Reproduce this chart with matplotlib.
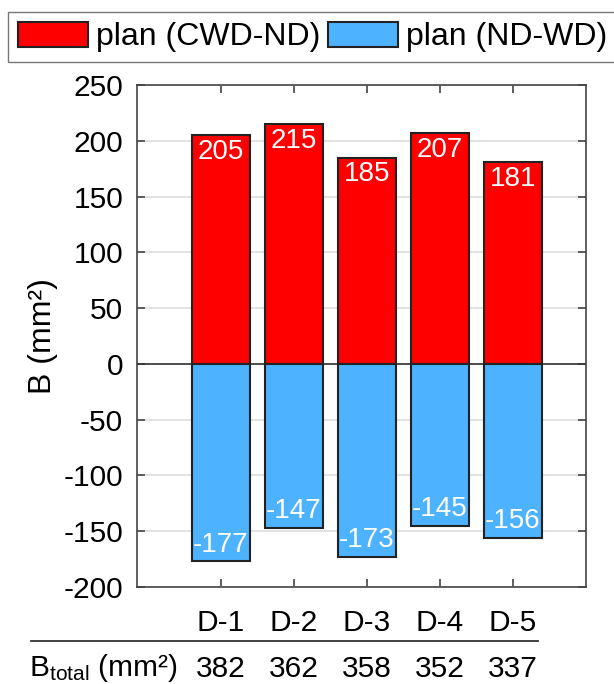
import numpy as np
import matplotlib.pyplot as plt
from matplotlib.lines import Line2D

plt.rcParams['font.family'] = ['Liberation Sans', 'DejaVu Sans']
plt.rcParams['mathtext.fontset'] = 'custom'
plt.rcParams['mathtext.rm'] = 'Liberation Sans'
plt.rcParams['mathtext.it'] = 'Liberation Sans:italic'
plt.rcParams['axes.unicode_minus'] = False

categories = ["D-1", "D-2", "D-3", "D-4", "D-5"]
cwd_nd = [205, 215, 185, 207, 181]
nd_wd = [-177, -147, -173, -145, -156]
b_total = [382, 362, 358, 352, 337]

RED = "#ff0000"
BLUE = "#4db2ff"
EDGE = "#222222"
FS = 21.5

fig = plt.figure(figsize=(6.14, 6.84), dpi=100)
ax = fig.add_axes([137 / 614, 1 - 587 / 684, 449 / 614, 502 / 684])

x = np.arange(1, len(categories) + 1)
b1 = ax.bar(x, cwd_nd, width=0.8, color=RED, edgecolor=EDGE, linewidth=1.5,
            label="plan (CWD-ND)", zorder=3)
b2 = ax.bar(x, nd_wd, width=0.8, color=BLUE, edgecolor=EDGE, linewidth=1.5,
            label="plan (ND-WD)", zorder=3)

for xi, v in zip(x, cwd_nd):
    ax.annotate(str(v), (xi, v), xytext=(0, -12), textcoords="offset points",
                ha="center", va="center", color="white", fontsize=FS - 1.5, zorder=4)
for xi, v in zip(x, nd_wd):
    ax.annotate(str(v), (xi, v), xytext=(0, 12), textcoords="offset points",
                ha="center", va="center", color="white", fontsize=FS - 1.5, zorder=4)

ax.set_xlim(-0.15, 6.0)
ax.set_ylim(-200, 250)
ax.set_yticks(np.arange(-200, 251, 50))
ax.set_xticks(x)
ax.set_xticklabels(categories)
ax.yaxis.grid(True, color="#dddddd", linewidth=1.2, zorder=0)
ax.axhline(0, color="#333333", linewidth=1.2, zorder=2)
ax.tick_params(axis="both", direction="in", labelsize=FS, length=6, width=1.2,
               color="#444444", top=True, right=True)
ax.tick_params(axis="x", pad=16)
ax.tick_params(axis="y", pad=10)
for s in ax.spines.values():
    s.set_color("#444444")
    s.set_linewidth(1.2)
ax.set_ylabel("B (mm²)", fontsize=23)
ax.yaxis.set_label_coords(-0.175, 0.5)

fig.legend(handles=[b1, b2], loc="upper left", bbox_to_anchor=(8 / 614, 1 - 12 / 684),
           ncol=2, fontsize=23, frameon=True, fancybox=False, edgecolor="#555555",
           handlelength=2.2, handleheight=0.85, handletextpad=0.25, columnspacing=0.25,
           borderpad=0.3, borderaxespad=0)

# bottom B_total row
fig.add_artist(Line2D([31 / 614, 538 / 614], [1 - 641 / 684] * 2, color="#333333",
                      linewidth=1.3, transform=fig.transFigure))
trans = ax.get_xaxis_transform()
for xi, t in zip(x, b_total):
    ax.text(xi, -0.163, str(t), transform=trans, ha="center", va="center",
            fontsize=FS, clip_on=False)
fig.text(29 / 614, 1 - 668 / 684, r"B$_{\mathrm{total}}$ (mm²)", ha="left",
         va="center", fontsize=FS)

fig.savefig("out.png", dpi=100)
